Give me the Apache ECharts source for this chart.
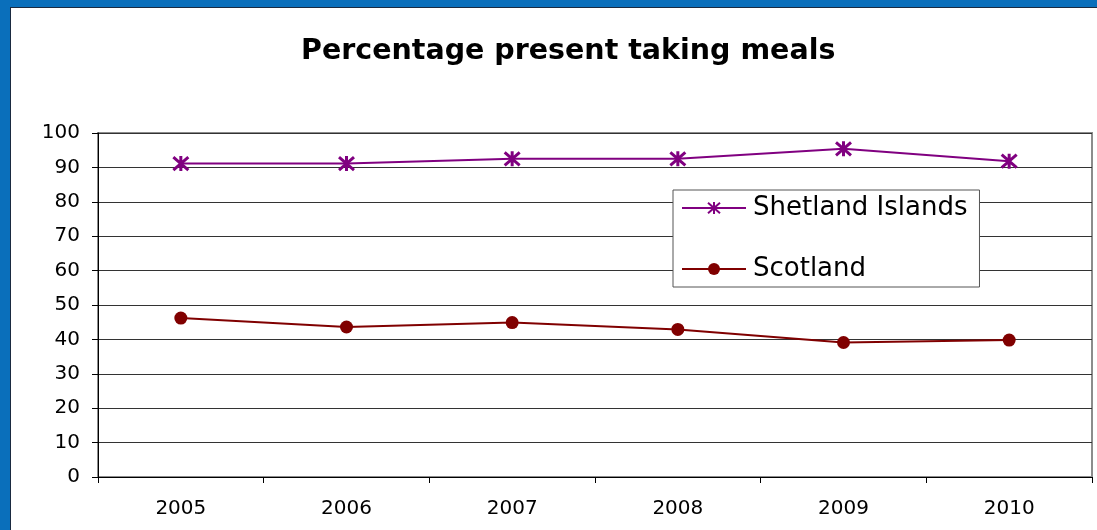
<!DOCTYPE html>
<html><head><meta charset="utf-8">
<script src="https://cdn.jsdelivr.net/npm/echarts@6/dist/echarts.min.js"></script>
<style>
html,body{margin:0;padding:0;width:1097px;height:530px;overflow:hidden;background:#0a6fbb;}
#frame{position:absolute;left:10px;top:7px;width:1087px;height:523px;background:#fff;border-left:1px solid #1a2a40;border-top:1px solid #1a2a40;}
#c{position:absolute;left:0;top:0;width:1087px;height:523px;}
</style></head>
<body><div id="frame"><div id="c"></div></div>
<script>
const titleText = 'Percentage present taking meals';
const years = ['2005','2006','2007','2008','2009','2010'];
const shetland = [91.1, 91.1, 92.5, 92.5, 95.4, 91.8];
const scotland = [46.2, 43.6, 44.9, 42.9, 39.1, 39.8];
const yTicks = {min: 0, max: 100, interval: 10};

const star = 'path://M0,-10L0,10M-8.7,-8.7L8.7,8.7M-8.7,8.7L8.7,-8.7';
const chart = echarts.init(document.getElementById('c'));
const font = 'DejaVu Sans, sans-serif';
chart.setOption({
  animation: false,
  textStyle: {fontFamily: font},
  title: {text: titleText, left: 285, top: 24,
    textStyle: {fontFamily: font, fontSize: 28.5, fontWeight: 'bold', color: '#000'}},
  grid: {left: 87, right: 6, top: 125, bottom: 54, show: true, borderColor: '#8c8c8c', borderWidth: 2, backgroundColor: 'transparent'},
  legend: {
    orient: 'vertical', left: 662, top: 182,
    padding: [5, 12, 5, 8], itemGap: 35,
    borderColor: '#555', borderWidth: 1, backgroundColor: '#fff',
    itemWidth: 64, itemHeight: 15,
    textStyle: {fontSize: 26, color: '#000', fontFamily: font, padding: [0,0,0,2]},
    data: ['Shetland Islands', 'Scotland']
  },
  xAxis: {type: 'category', data: years, boundaryGap: true,
    axisLine: {lineStyle: {color: '#000', width: 1}},
    axisTick: {show: true, length: 6, inside: false, lineStyle: {color: '#000'}},
    axisLabel: {fontSize: 20, color: '#000', margin: 22}},
  yAxis: {type: 'value', min: yTicks.min, max: yTicks.max, interval: yTicks.interval,
    axisLine: {show: true, lineStyle: {color: '#000', width: 1}},
    axisTick: {show: true, length: 6, lineStyle: {color: '#000'}},
    splitLine: {lineStyle: {color: '#333', width: 1}},
    axisLabel: {fontSize: 20, color: '#000', margin: 18}},
  series: [
    {name: 'Shetland Islands', type: 'line', data: shetland, symbol: star, symbolSize: 15,
      lineStyle: {color: '#800080', width: 2}, itemStyle: {color: '#800080', borderColor: '#800080', borderWidth: 3}},
    {name: 'Scotland', type: 'line', data: scotland, symbol: 'circle', symbolSize: 13,
      lineStyle: {color: '#800000', width: 2}, itemStyle: {color: '#800000', borderWidth: 0}}
  ]
});
</script></body></html>
